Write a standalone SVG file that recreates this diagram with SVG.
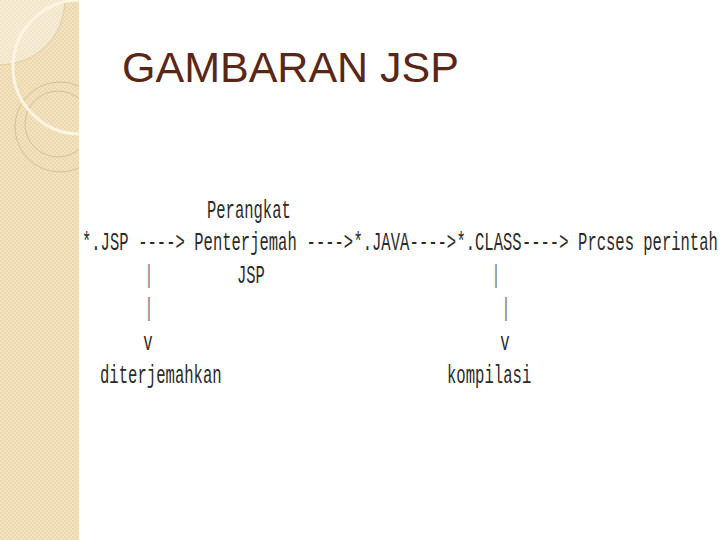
<svg xmlns="http://www.w3.org/2000/svg" width="720" height="540" viewBox="0 0 720 540">
  <defs>
    <pattern id="checker" width="4" height="4" patternUnits="userSpaceOnUse">
      <rect width="4" height="4" fill="#f3e3c0"/>
      <rect width="2" height="2" fill="#ecd8ae"/>
      <rect x="2" y="2" width="2" height="2" fill="#ecd8ae"/>
    </pattern>
    <clipPath id="stripClip">
      <rect x="0" y="0" width="79" height="540"/>
    </clipPath>
  </defs>
  <style>
    .mono { font-family: "Liberation Mono", "DejaVu Sans Mono", monospace; font-size: 26px; fill: #2a2a2a; }
    .pipe { font-family: "Liberation Mono", "DejaVu Sans Mono", monospace; font-size: 26px; fill: #8c8c8c; stroke: #8c8c8c; stroke-width: 0.15; }
    .title { font-family: "Liberation Sans", Arial, sans-serif; font-size: 42px; fill: #5a2616; }
    .thin { fill: none; stroke: #d6c094; stroke-width: 1; }
  </style>

  <rect width="720" height="540" fill="#ffffff"/>

  <!-- decorative left strip -->
  <g id="strip" clip-path="url(#stripClip)">
    <rect x="0" y="0" width="79" height="540" fill="url(#checker)"/>
    <circle cx="0" cy="0" r="65" fill="#ffffff" fill-opacity="0.35" stroke="#dcc79c" stroke-width="0.8"/>
    <circle cx="60" cy="127" r="45" fill="#ffffff" fill-opacity="0.12" class="thin"/>
    <circle cx="58" cy="124" r="33" fill="url(#checker)" class="thin"/>
    <circle cx="80" cy="67" r="67" fill="none" stroke="#fdf5e2" stroke-width="3"/>
  </g>

  <g id="title">
    <text class="title" x="122" y="82" textLength="337" lengthAdjust="spacingAndGlyphs">GAMBARAN JSP</text>
  </g>

  <g id="node-jsp">
    <text class="mono" transform="translate(82 250) scale(0.597 1)">*.JSP</text>
  </g>
  <g id="node-penterjemah">
    <text class="mono" transform="translate(207 218) scale(0.597 1)">Perangkat</text>
    <text class="mono" transform="translate(194.3 250) scale(0.597 1)">Penterjemah</text>
    <text class="mono" transform="translate(237 283) scale(0.597 1)">JSP</text>
  </g>
  <g id="node-java">
    <text class="mono" transform="translate(353.4 250) scale(0.597 1)">*.JAVA</text>
  </g>
  <g id="node-class">
    <text class="mono" transform="translate(456.4 250) scale(0.597 1)">*.CLASS</text>
  </g>
  <g id="node-proses">
    <text class="mono" transform="translate(578.1 250) scale(0.597 1)">Prcses perintah</text>
  </g>
  <g id="node-diterjemahkan">
    <text class="mono" transform="translate(100 383) scale(0.6 1)">diterjemahkan</text>
  </g>
  <g id="node-kompilasi">
    <text class="mono" transform="translate(447 383) scale(0.6 1)">kompilasi</text>
  </g>

  <g id="connectors">
    <text class="mono" transform="translate(138.2 250) scale(0.597 1)">----&gt;</text>
    <text class="mono" transform="translate(306.6 250) scale(0.597 1)">----&gt;</text>
    <text class="mono" transform="translate(409.6 250) scale(0.597 1)">----&gt;</text>
    <text class="mono" transform="translate(521.9 250) scale(0.597 1)">----&gt;</text>
    <text class="pipe" text-anchor="middle" transform="translate(149 283) scale(0.7 1)">|</text>
    <text class="pipe" text-anchor="middle" transform="translate(149 316) scale(0.7 1)">|</text>
    <text class="mono" text-anchor="middle" transform="translate(148 350) scale(0.6 1)">v</text>
    <text class="pipe" text-anchor="middle" transform="translate(496 283) scale(0.7 1)">|</text>
    <text class="pipe" text-anchor="middle" transform="translate(506 316) scale(0.7 1)">|</text>
    <text class="mono" text-anchor="middle" transform="translate(505 350) scale(0.6 1)">v</text>
  </g>
</svg>
